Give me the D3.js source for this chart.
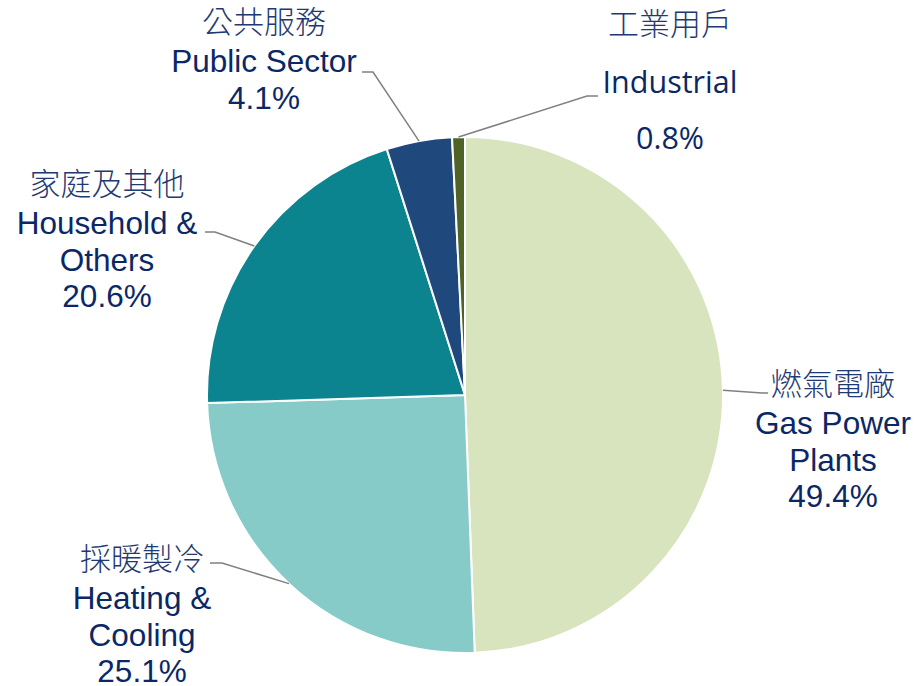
<!DOCTYPE html>
<html>
<head>
<meta charset="utf-8">
<script src="https://cdn.jsdelivr.net/npm/d3@7"></script>
<style>
  body { margin: 0; background: #fff; }
  .lat { font-family: "Liberation Sans", Arial, sans-serif; }
  .cjk { font-family: "Noto Sans CJK TC", sans-serif; font-weight: 300; }
  .seg { font-family: "Open Sans", "Noto Sans", sans-serif; }
</style>
</head>
<body>
<svg id="chart"></svg>
<script>
// data, clockwise from 12 o'clock
var categories = ['Gas Power Plants', 'Heating & Cooling', 'Household & Others', 'Public Sector', 'Industrial'];
var shares = [49.4, 25.1, 20.6, 4.1, 0.8];
var labelsZh = ['燃氣電廠', '採暖製冷', '家庭及其他', '公共服務', '工業用戶'];
var labelsEn = [['Gas Power', 'Plants'], ['Heating &', 'Cooling'], ['Household &', 'Others'], ['Public Sector'], ['Industrial']];
var colors = ['#d7e4bd', '#86cbc8', '#0c8490', '#1f497d', '#4f6228'];

var width = 914, height = 686;
var cx = 465, cy = 395, radius = 258;
var navy = '#0b2866';

var svg = d3.select('#chart')
    .attr('width', width)
    .attr('height', height);

var pie = d3.pie().sort(null).value(function (d) { return d; });
var arc = d3.arc().innerRadius(0).outerRadius(radius);
var arcs = pie(shares);

var g = svg.append('g').attr('transform', 'translate(' + cx + ',' + cy + ')');

g.selectAll('path.slice')
    .data(arcs)
    .enter().append('path')
    .attr('class', 'slice')
    .attr('d', arc)
    .attr('fill', function (d, i) { return colors[i]; })
    .attr('stroke', '#fff')
    .attr('stroke-width', 2)
    .attr('stroke-linejoin', 'round');

// label placement (text block centre x, baseline of first line, leader line)
var layout = [
    { x: 833, y: 395, elbow: [762, 393], end: 768, font: 'lat' },
    { x: 142, y: 570, elbow: [222, 563], end: 210, font: 'lat' },
    { x: 107, y: 195, elbow: [215, 232], end: 205, font: 'lat' },
    { x: 264, y: 33, elbow: [373, 72], end: 362, font: 'lat' },
    { x: 670, y: 35, elbow: [587, 96], end: 598, font: 'seg' }
];

// leader lines
var outer = d3.arc().innerRadius(radius).outerRadius(radius);
arcs.forEach(function (d, i) {
    var p = outer.centroid(d);
    var L = layout[i];
    svg.append('polyline')
        .attr('points', [[cx + p[0], cy + p[1]], L.elbow, [L.end, L.elbow[1]]].join(' '))
        .attr('fill', 'none')
        .attr('stroke', '#808080')
        .attr('stroke-width', 1.5);
});

// text labels
categories.forEach(function (c, i) {
    var L = layout[i];
    var t = svg.append('g').attr('transform', 'translate(' + L.x + ',0)')
        .attr('text-anchor', 'middle')
        .attr('fill', navy);
    t.append('text')
        .attr('class', 'cjk')
        .attr('y', L.y)
        .style('font-size', '31px')
        .attr('fill', '#1f3a72')
        .text(labelsZh[i]);
    var lines = labelsEn[i].concat([d3.format('.1f')(shares[i]) + '%']);
    var step = L.font === 'seg' ? 56 : 36.5;
    lines.forEach(function (s, j) {
        var y = L.font === 'seg' ? L.y + 58 + j * step : L.y + 39 + j * step;
        t.append('text')
            .attr('class', L.font)
            .attr('y', y)
            .style('font-size', L.font === 'seg' ? '30.5px' : '31.5px')
            .text(s);
    });
});
</script>
</body>
</html>
